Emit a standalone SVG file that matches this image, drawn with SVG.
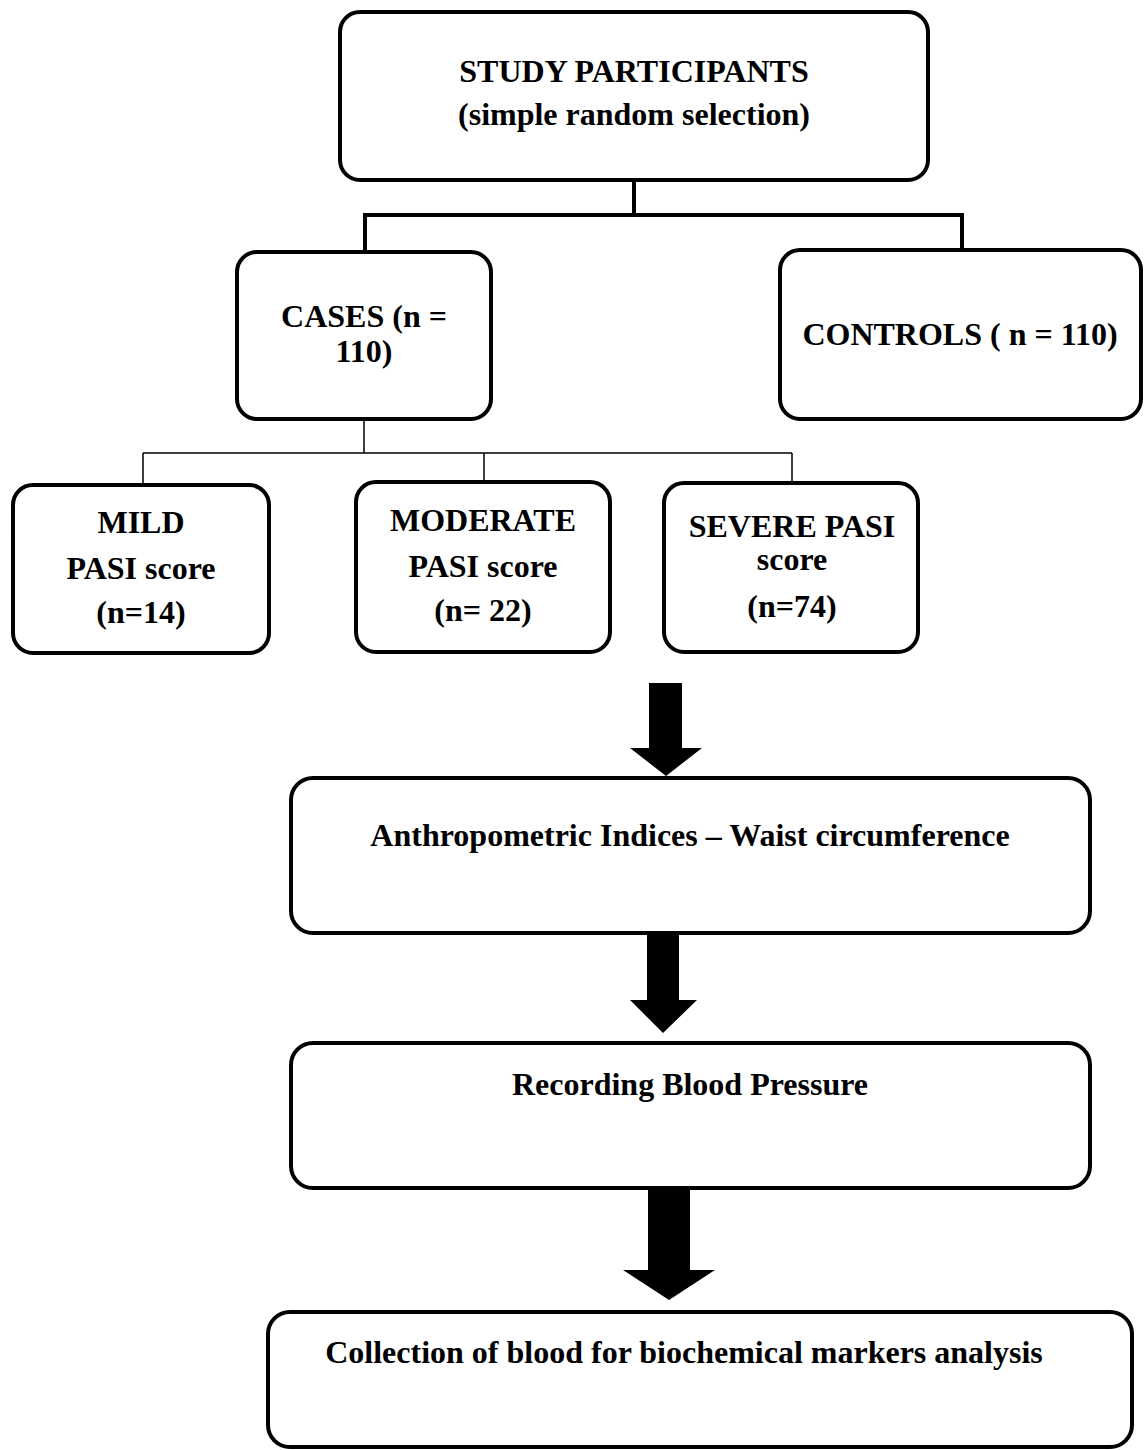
<svg xmlns="http://www.w3.org/2000/svg" width="1144" height="1450" viewBox="0 0 1144 1450">
<style>
.box{fill:#fff;stroke:#000;stroke-width:4}
.t{font-family:"Liberation Serif","Times New Roman",serif;font-weight:bold;font-size:32px;text-anchor:middle;fill:#000}
.thick{stroke:#000;stroke-width:4;fill:none}
.thin{stroke:#000;stroke-width:1.5;fill:none}
.arr{fill:#000}
</style>
<rect width="1144" height="1450" fill="#fff"/>
<g id="connectors">
<path class="thick" d="M634 180V215M365 215H962M365 213V252M962 213V250"/>
<path class="thin" d="M364 419V453M143 453H792M143 453V485M484 453V482M792 453V482"/>
<polygon class="arr" points="649,683 682,683 682,748 702,748 666,776 630,748 649,748"/>
<polygon class="arr" points="647,934 679,934 679,1000 697,1000 663,1033 630,1000 647,1000"/>
<polygon class="arr" points="648,1188 690,1188 690,1270 715,1270 669,1300 623,1270 648,1270"/>
</g>
<g id="study">
<rect class="box" x="340" y="12" width="588" height="168" rx="20"/>
<text class="t" x="634" y="82">STUDY PARTICIPANTS</text>
<text class="t" x="634" y="125">(simple random selection)</text>
</g>
<g id="cases">
<rect class="box" x="237" y="252" width="254" height="167" rx="20"/>
<text class="t" x="364" y="327">CASES (n =</text>
<text class="t" x="364" y="362">110)</text>
</g>
<g id="controls">
<rect class="box" x="780" y="250" width="361" height="169" rx="20"/>
<text class="t" x="960" y="345">CONTROLS ( n = 110)</text>
</g>
<g id="mild">
<rect class="box" x="13" y="485" width="256" height="168" rx="20"/>
<text class="t" x="141" y="533">MILD</text>
<text class="t" x="141" y="579">PASI score</text>
<text class="t" x="141" y="623">(n=14)</text>
</g>
<g id="moderate">
<rect class="box" x="356" y="482" width="254" height="170" rx="20"/>
<text class="t" x="483" y="531">MODERATE</text>
<text class="t" x="483" y="577">PASI score</text>
<text class="t" x="483" y="621">(n= 22)</text>
</g>
<g id="severe">
<rect class="box" x="664" y="483" width="254" height="169" rx="20"/>
<text class="t" x="792" y="537">SEVERE PASI</text>
<text class="t" x="792" y="570">score</text>
<text class="t" x="792" y="617">(n=74)</text>
</g>
<g id="anthropometric">
<rect class="box" x="291" y="778" width="799" height="155" rx="22"/>
<text class="t" x="690" y="846">Anthropometric Indices – Waist circumference</text>
</g>
<g id="bp">
<rect class="box" x="291" y="1043" width="799" height="145" rx="22"/>
<text class="t" x="690" y="1095">Recording Blood Pressure</text>
</g>
<g id="blood">
<rect class="box" x="268" y="1312" width="864" height="135" rx="22"/>
<text class="t" x="684" y="1363">Collection of blood for biochemical markers analysis</text>
</g>
</svg>
